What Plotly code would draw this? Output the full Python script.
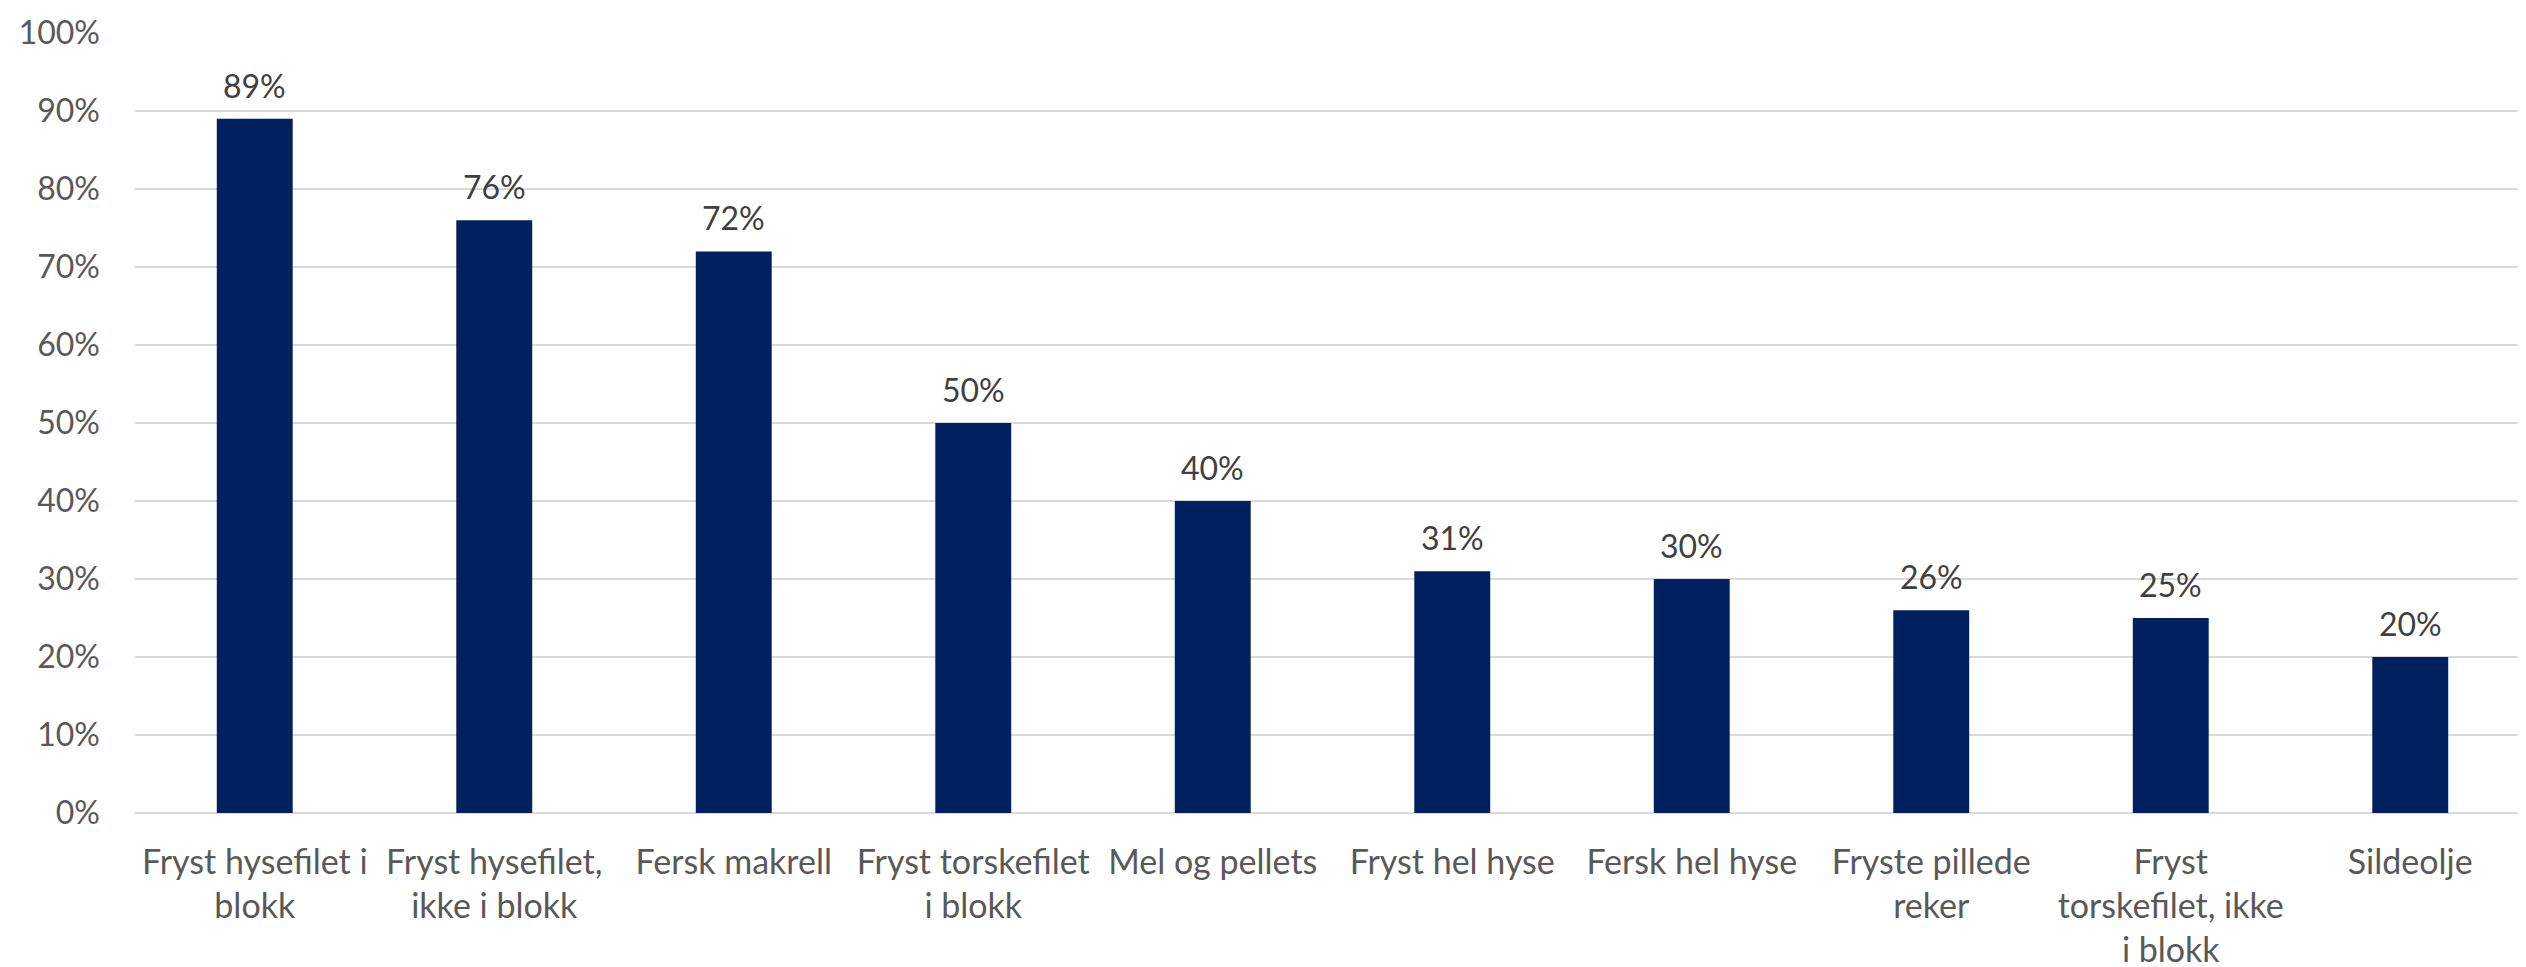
import plotly.graph_objects as go

categories = [
    "Fryst hysefilet i<br>blokk",
    "Fryst hysefilet,<br>ikke i blokk",
    "Fersk makrell",
    "Fryst torskefilet<br>i blokk",
    "Mel og pellets",
    "Fryst hel hyse",
    "Fersk hel hyse",
    "Fryste pillede<br>reker",
    "Fryst<br>torskefilet, ikke<br>i blokk",
    "Sildeolje",
]
values = [89, 76, 72, 50, 40, 31, 30, 26, 25, 20]
y_ticks = list(range(0, 101, 10))
y_tick_labels = [f"{v}%" for v in y_ticks]

FONT = "Lato, Carlito, Calibri, sans-serif"

fig = go.Figure()
fig.add_trace(go.Bar(
    x=categories,
    y=values,
    marker=dict(color="#002060", line=dict(width=0)),
    width=0.317,
    hoverinfo="x+y",
))

for c, v in zip(categories, values):
    fig.add_annotation(
        x=c, y=v, text=f"{v}%", showarrow=False,
        yanchor="bottom", yshift=12,
        font=dict(family=FONT, size=32, color="#404040"),
    )

fig.update_layout(
    width=2526, height=967,
    margin=dict(l=127, r=4, t=21, b=162),
    paper_bgcolor="white",
    plot_bgcolor="white",
    showlegend=False,
    bargap=0.683,
    font=dict(family=FONT, size=32, color="#595959"),
)
fig.update_xaxes(
    tickfont=dict(family=FONT, size=34, color="#595959"),
    showgrid=False,
    showline=False,
    ticks="",
    ticklabelstandoff=26,
)
fig.update_yaxes(
    range=[0, 100],
    tickvals=y_ticks,
    ticktext=y_tick_labels,
    tickfont=dict(family=FONT, size=32, color="#595959"),
    showgrid=True,
    gridcolor="#d9d9d9",
    gridwidth=2,
    zeroline=True,
    zerolinecolor="#d9d9d9",
    zerolinewidth=2,
    showline=False,
    ticks="",
    ticklabelstandoff=34,
)

fig.write_html("out.html")
